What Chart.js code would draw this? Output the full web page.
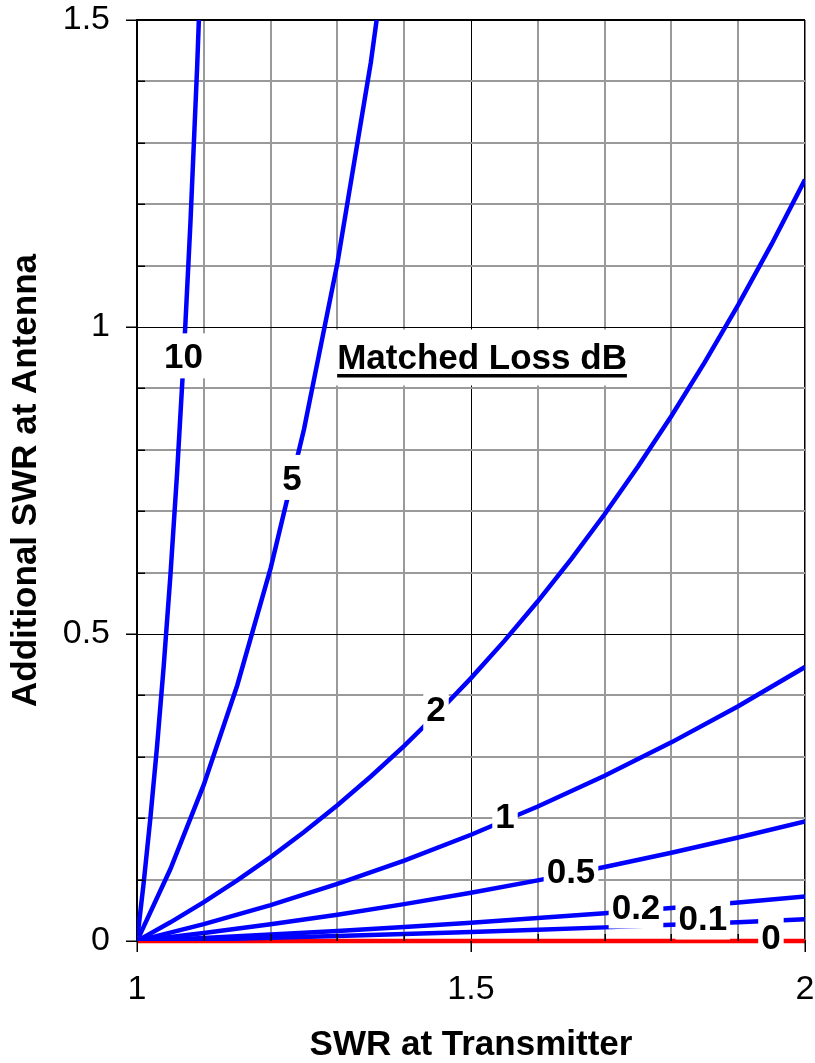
<!DOCTYPE html>
<html>
<head>
<meta charset="utf-8">
<script src="https://cdn.jsdelivr.net/npm/chart.js@4/dist/chart.umd.min.js"></script>
<style>
  html, body { margin: 0; padding: 0; background: #fff; }
  canvas { display: block; }
</style>
</head>
<body>
<canvas id="c" width="815" height="1063"></canvas>
<script>
// ---- Data (additional SWR at antenna vs SWR at transmitter, per matched loss) ----
const swrStep10 = [1.0, 1.1, 1.2, 1.3, 1.4, 1.5, 1.6, 1.7, 1.8, 1.9, 2.0];
const swrStep05 = [1.0, 1.05, 1.1, 1.15, 1.2, 1.25, 1.3, 1.35, 1.4, 1.45, 1.5, 1.55, 1.6, 1.65, 1.7, 1.75, 1.8, 1.85, 1.9, 1.95, 2.0];
const swrLoss5 = [1.0, 1.05, 1.1, 1.15, 1.2, 1.25, 1.3, 1.35, 1.4];
const swrLoss10 = [1.0, 1.01, 1.02, 1.03, 1.04, 1.05, 1.06, 1.07, 1.08, 1.09, 1.1];
const swrLoss0 = [1.0, 2.0];

const loss0 = [0, 0];
const loss01 = [0, 0.00245, 0.00513, 0.00807, 0.01123, 0.01464, 0.01829, 0.02219, 0.02634, 0.03072, 0.03535];
const loss02 = [0, 0.00496, 0.01042, 0.01640, 0.02284, 0.02981, 0.03729, 0.04528, 0.05380, 0.06284, 0.07240];
const loss05 = [0, 0.01289, 0.02717, 0.04288, 0.06003, 0.07866, 0.09878, 0.12045, 0.14368, 0.16849, 0.19492];
const loss1 = [0, 0.02755, 0.05848, 0.09294, 0.13107, 0.17303, 0.21897, 0.26907, 0.32350, 0.38246, 0.44615];
const loss2 = [0, 0.03042, 0.06326, 0.09864, 0.13667, 0.17747, 0.22120, 0.26797, 0.31794, 0.37129, 0.42817, 0.48877, 0.55330, 0.62197, 0.69500, 0.77264, 0.85515, 0.94281, 1.03596, 1.13488, 1.23997];
const loss5 = [0, 0.11715, 0.25456, 0.41615, 0.60694, 0.83339, 1.10409, 1.43056, 1.82874];
const loss10 = [0, 0.09471, 0.19978, 0.31682, 0.44780, 0.59516, 0.76192, 0.95190, 1.17000, 1.42261, 1.71818];

// Curve labels (text and anchor in data units)
const labelText = ['10', '5', '2', '1', '0.5', '0.2', '0.1', '0'];
const labelX = [1.0695, 1.232, 1.4476, 1.5509, 1.6497, 1.747, 1.847, 1.949];
const labelY = [0.953, 0.755, 0.378, 0.205, 0.1156, 0.057, 0.039, 0.008];
const legendTitle = 'Matched Loss dB';
const legendX = 1.5165, legendY = 0.952;

const xTitle = 'SWR at Transmitter';
const yTitle = 'Additional SWR at Antenna';

// ---- Build ----
const FAM = '"Liberation Sans", Arial, Helvetica, sans-serif';
const pts = (xs, ys) => xs.map((v, i) => ({ x: v, y: ys[i] }));
const blue = '#0000FF';
const series = [
  [swrLoss10, loss10], [swrLoss5, loss5], [swrStep05, loss2], [swrStep10, loss1],
  [swrStep10, loss05], [swrStep10, loss02], [swrStep10, loss01]
];
const datasets = series.map(([xs, ys]) => ({
  data: pts(xs, ys), borderColor: blue, borderWidth: 4.5, pointRadius: 0, tension: 0, fill: false
}));
datasets.push({ data: pts(swrLoss0, loss0), borderColor: '#FF0000', borderWidth: 4.5, pointRadius: 0, tension: 0, fill: false, clip: false });

const isMajor = v => Math.abs(Math.round(v * 10) % 5) === 0;
const fmt = v => String(Math.round(v * 10) / 10);

const gridColor = ctx => isMajor(ctx.tick.value) ? '#000000' : '#9a9a9a';

const overlay = {
  id: 'overlay',
  afterDatasetsDraw(chart) {
    const { ctx, scales: { x, y } } = chart;
    ctx.save();
    const fs = 35;
    ctx.font = 'bold ' + fs + 'px ' + FAM;
    ctx.textAlign = 'center';
    ctx.textBaseline = 'alphabetic';
    for (let i = 0; i < labelText.length; i++) {
      const px = x.getPixelForValue(labelX[i]);
      const py = y.getPixelForValue(labelY[i]);
      const w = ctx.measureText(labelText[i]).width;
      ctx.fillStyle = '#fff';
      ctx.fillRect(px - w / 2 - 3, py - 22.5, w + 6, 45);
      ctx.fillStyle = '#000';
      ctx.fillText(labelText[i], px, py + 0.358 * fs);
    }
    // legend title with underline
    const lx = x.getPixelForValue(legendX), ly = y.getPixelForValue(legendY);
    const lw = ctx.measureText(legendTitle).width;
    ctx.fillStyle = '#fff';
    ctx.fillRect(lx - lw / 2 - 5, ly - 27, lw + 10, 56);
    ctx.fillStyle = '#000';
    const base = ly + 0.358 * fs;
    ctx.fillText(legendTitle, lx, base);
    ctx.fillRect(lx - lw / 2, base + 5, lw, 3.5);
    ctx.restore();
  },
  afterDraw(chart) {
    const { ctx, chartArea: a, scales: { x, y } } = chart;
    ctx.save();
    ctx.strokeStyle = '#000';
    ctx.lineWidth = 1.5;
    ctx.beginPath();
    y.ticks.forEach(t => {
      const py = Math.round(y.getPixelForValue(t.value)) + 0.25;
      if (isMajor(t.value)) { ctx.moveTo(a.left - 11, py); ctx.lineTo(a.left, py); }
      else { ctx.moveTo(a.left, py); ctx.lineTo(a.left + 8, py); }
    });
    x.ticks.forEach(t => {
      const px = Math.round(x.getPixelForValue(t.value)) + 0.25;
      if (isMajor(t.value)) { ctx.moveTo(px, a.bottom); ctx.lineTo(px, a.bottom + 11); }
      else { ctx.moveTo(px, a.bottom); ctx.lineTo(px, a.bottom - 7); }
    });
    ctx.stroke();
    ctx.restore();
  }
};

new Chart(document.getElementById('c'), {
  type: 'line',
  data: { datasets },
  plugins: [overlay],
  options: {
    responsive: false,
    animation: false,
    devicePixelRatio: 1,
    layout: { padding: { top: 20, right: 10, left: 0, bottom: 0 } },
    plugins: { legend: { display: false }, tooltip: { enabled: false } },
    scales: {
      x: {
        type: 'linear', min: 1, max: 2,
        ticks: {
          stepSize: 0.1, autoSkip: false, maxRotation: 0, padding: 32, color: '#000',
          font: { family: FAM, size: 34, lineHeight: 1 },
          callback: v => isMajor(v) ? fmt(v) : ''
        },
        grid: {
          drawTicks: false, color: gridColor,
          lineWidth: ctx => isMajor(ctx.tick.value) ? (ctx.tick.value > 1.95 ? 1.5 : 1) : 2
        },
        border: { color: '#000', width: 2 },
        title: {
          display: true, text: xTitle, color: '#000',
          font: { family: FAM, size: 35, weight: 'bold', lineHeight: 1 },
          padding: { top: 0, bottom: 0 }
        },
        afterFit: s => { s.height = 122; s.paddingLeft = 0; s.paddingRight = 0; }
      },
      y: {
        type: 'linear', min: 0, max: 1.5,
        ticks: {
          stepSize: 0.1, autoSkip: false, padding: 27, color: '#000',
          font: { family: FAM, size: 34, lineHeight: 1 },
          callback: v => isMajor(v) ? fmt(v) : ''
        },
        grid: {
          drawTicks: false, color: gridColor,
          lineWidth: ctx => isMajor(ctx.tick.value) ? (ctx.tick.value > 1.45 ? 2 : 1) : 2
        },
        border: { color: '#000', width: 2 },
        title: {
          display: true, text: yTitle, color: '#000',
          font: { family: FAM, size: 35, weight: 'bold', lineHeight: 1 },
          padding: { top: 9, bottom: 0 }
        },
        afterFit: s => { s.width = 137; s.paddingTop = 0; s.paddingBottom = 0; }
      }
    }
  }
});
</script>
</body>
</html>
